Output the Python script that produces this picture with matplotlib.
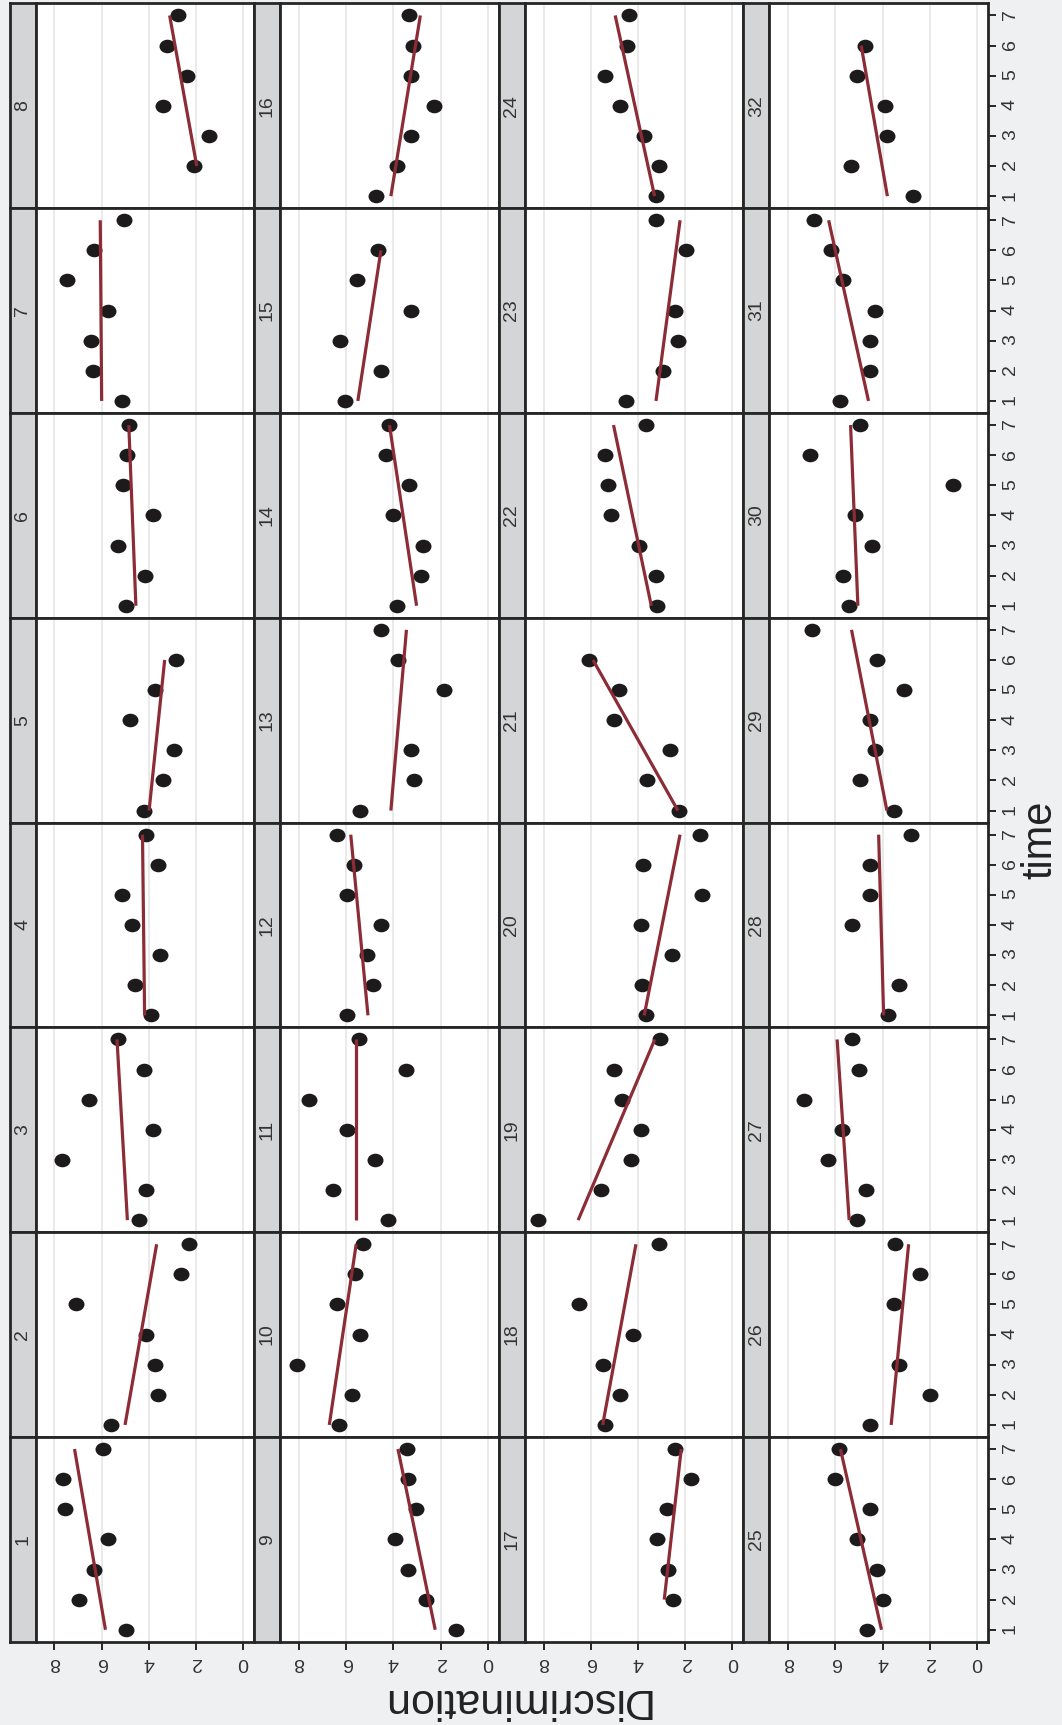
import numpy as np
import matplotlib
matplotlib.use("Agg")
import matplotlib.pyplot as plt
from matplotlib.path import Path
from matplotlib.transforms import Affine2D

plt.rcParams['font.family'] = ['Liberation Sans', 'DejaVu Sans']

nan = np.nan
# ---------------- data ----------------
subjects = list(range(1, 33))
times = [1, 2, 3, 4, 5, 6, 7]
# Discrimination score per subject, time 1..7 (nan = not observed)
discrimination = [
    [4.98, 6.98, 6.31, 5.74, 7.57, 7.65, 5.96],   # 1
    [5.59, 3.62, 3.76, 4.13, 7.08, 2.65, 2.28],   # 2
    [4.43, 4.13, 7.66, 3.83, 6.54, 4.20, 5.32],   # 3
    [3.90, 4.57, 3.53, 4.70, 5.12, 3.62, 4.13],   # 4
    [4.20, 3.38, 2.94, 4.78, 3.73, 2.87, nan],    # 5
    [4.98, 4.18, 5.32, 3.84, 5.09, 4.92, 4.85],   # 6
    [5.13, 6.38, 6.47, 5.74, 7.45, 6.33, 5.06],   # 7
    [nan, 2.07, 1.46, 3.38, 2.40, 3.23, 2.78],    # 8
    [1.37, 2.62, 3.37, 3.94, 3.06, 3.37, 3.44],   # 9
    [6.31, 5.76, 8.08, 5.40, 6.40, 5.62, 5.30],   # 10
    [4.24, 6.55, 4.80, 5.97, 7.57, 3.45, 5.47],   # 11
    [5.97, 4.85, 5.11, 4.52, 5.97, 5.69, 6.40],   # 12
    [5.40, 3.13, 3.27, nan, 1.85, 3.81, 4.52],    # 13
    [3.87, 2.85, 2.76, 4.01, 3.34, 4.31, 4.17],   # 14
    [6.04, 4.52, 6.26, 3.27, 5.54, 4.66, nan],    # 15
    [4.73, 3.87, 3.27, 2.27, 3.27, 3.18, 3.34],   # 16
    [nan, 2.54, 2.75, 3.19, 2.78, 1.76, 2.42],    # 17
    [5.42, 4.75, 5.50, 4.22, 6.50, nan, 3.13],    # 18
    [8.26, 5.57, 4.32, 3.88, 4.69, 5.00, 3.06],   # 19
    [3.67, 3.82, 2.55, 3.88, 1.29, 3.81, 1.36],   # 20
    [2.27, 3.60, 2.63, 5.00, 4.80, 6.09, nan],    # 21
    [3.19, 3.22, 3.95, 5.14, 5.28, 5.42, 3.67],   # 22
    [4.52, 2.93, 2.32, 2.45, nan, 1.98, 3.24],    # 23
    [3.24, 3.13, 3.75, 4.75, 5.42, 4.46, 4.39],   # 24
    [4.68, 4.00, 4.23, 5.08, 4.54, 6.03, 5.87],   # 25
    [4.54, 1.99, 3.32, nan, 3.54, 2.42, 3.47],    # 26
    [5.08, 4.70, 6.31, 5.74, 7.34, 5.02, 5.32],   # 27
    [3.76, 3.32, nan, 5.32, 4.55, 4.55, 2.79],    # 28
    [3.52, 4.94, 4.34, 4.55, 3.10, 4.26, 6.99],   # 29
    [5.42, 5.66, 4.47, 5.16, 1.02, 7.06, 4.95],   # 30
    [5.80, 4.53, 4.54, 4.33, 5.66, 6.17, 6.92],   # 31
    [2.72, 5.36, 3.83, 3.90, 5.08, 4.75, nan],    # 32
]
# fitted (model) line: value at first observed time and at last observed time
fit_start = [5.84, 5.01, 4.91, 4.18, 3.99, 4.55, 6.00, 1.97,
             2.23, 6.72, 5.58, 5.08, 4.11, 3.02, 5.51, 4.11,
             2.89, 5.50, 6.54, 3.74, 2.31, 3.44, 3.24, 3.30,
             4.05, 3.64, 5.42, 3.96, 3.82, 5.05, 4.60, 3.80]
fit_end = [7.15, 3.67, 5.35, 4.27, 3.33, 4.85, 6.06, 3.12,
           3.81, 5.58, 5.58, 5.81, 3.45, 4.17, 4.53, 2.86,
           2.17, 4.09, 3.29, 2.22, 5.91, 5.04, 2.22, 4.97,
           5.79, 2.90, 5.93, 4.17, 5.32, 5.36, 6.29, 4.91]
disc_ticks = [0, 2, 4, 6, 8]

# ---------------- layout (rotated trellis) ----------------
W, H = 1062, 1725
fig = plt.figure(figsize=(W / 100, H / 100), dpi=100, facecolor='#eff0f2')

def rect(x0, y0, w, h):
    return [x0 / W, 1 - (y0 + h) / H, w / W, h / H]

band_left = [9.6, 254.2, 498.8, 743.4]
strip_w = 26.0
plot_w = 218.5
top = 3.4
row_h = 204.8
edge = '#262626'

t_ell = Affine2D().scale(1.0, 0.85)
ellipse = Path(t_ell.transform(Path.unit_circle().vertices), Path.unit_circle().codes)

for c in range(4):
    for r in range(8):
        subj = c * 8 + (8 - r)
        y0 = top + r * row_h
        # strip
        sax = fig.add_axes(rect(band_left[c], y0, strip_w, row_h))
        sax.set_facecolor('#d4d5d7')
        sax.set_xticks([]); sax.set_yticks([])
        for s in sax.spines.values():
            s.set_color(edge); s.set_linewidth(2.0)
        sax.text(0.5, 0.5, str(subj), rotation=90, ha='center', va='center',
                 fontsize=14, color='#333333', transform=sax.transAxes)
        # panel
        ax = fig.add_axes(rect(band_left[c] + strip_w, y0, plot_w, row_h))
        ax.set_facecolor('white')
        ax.set_xlim(8.8, -0.46)
        ax.set_ylim(0.6, 7.4)
        ax.set_xticks(disc_ticks)
        ax.set_yticks(times)
        ax.grid(axis='x', color='#e6e6e6', linewidth=1.2)
        ax.set_axisbelow(True)
        for s in ax.spines.values():
            s.set_color(edge); s.set_linewidth(2.0)
        ax.tick_params(axis='x', bottom=(r == 7), labelbottom=(r == 7), top=False,
                       length=6, width=1.4, color=edge, labelsize=14,
                       labelcolor='#333333', labelrotation=180, pad=3)
        ax.tick_params(axis='y', left=False, labelleft=False, right=(c == 3),
                       labelright=(c == 3), length=6, width=1.4, color=edge,
                       labelsize=14, labelcolor='#333333', labelrotation=90, pad=4)
        vals = np.array(discrimination[subj - 1], dtype=float)
        tt = np.array(times, dtype=float)
        ok = ~np.isnan(vals)
        ax.plot(vals[ok], tt[ok], linestyle='none', marker=ellipse, markersize=11.5,
                color='#1c1a1b', markeredgecolor='none', zorder=3)
        ax.plot([fit_start[subj - 1], fit_end[subj - 1]], [tt[ok][0], tt[ok][-1]],
                color='#8c2c36', linewidth=2.3, solid_capstyle='butt', zorder=4)

fig.text(515 / W, 1 - 1700 / H, 'Discrimination', rotation=180, ha='center',
         va='center', fontsize=31, color='#222222')
fig.text(1040 / W, 1 - 839.5 / H, 'time', rotation=90, ha='center',
         va='center', fontsize=30, color='#222222')

fig.savefig('out.png', dpi=100, facecolor=fig.get_facecolor())
